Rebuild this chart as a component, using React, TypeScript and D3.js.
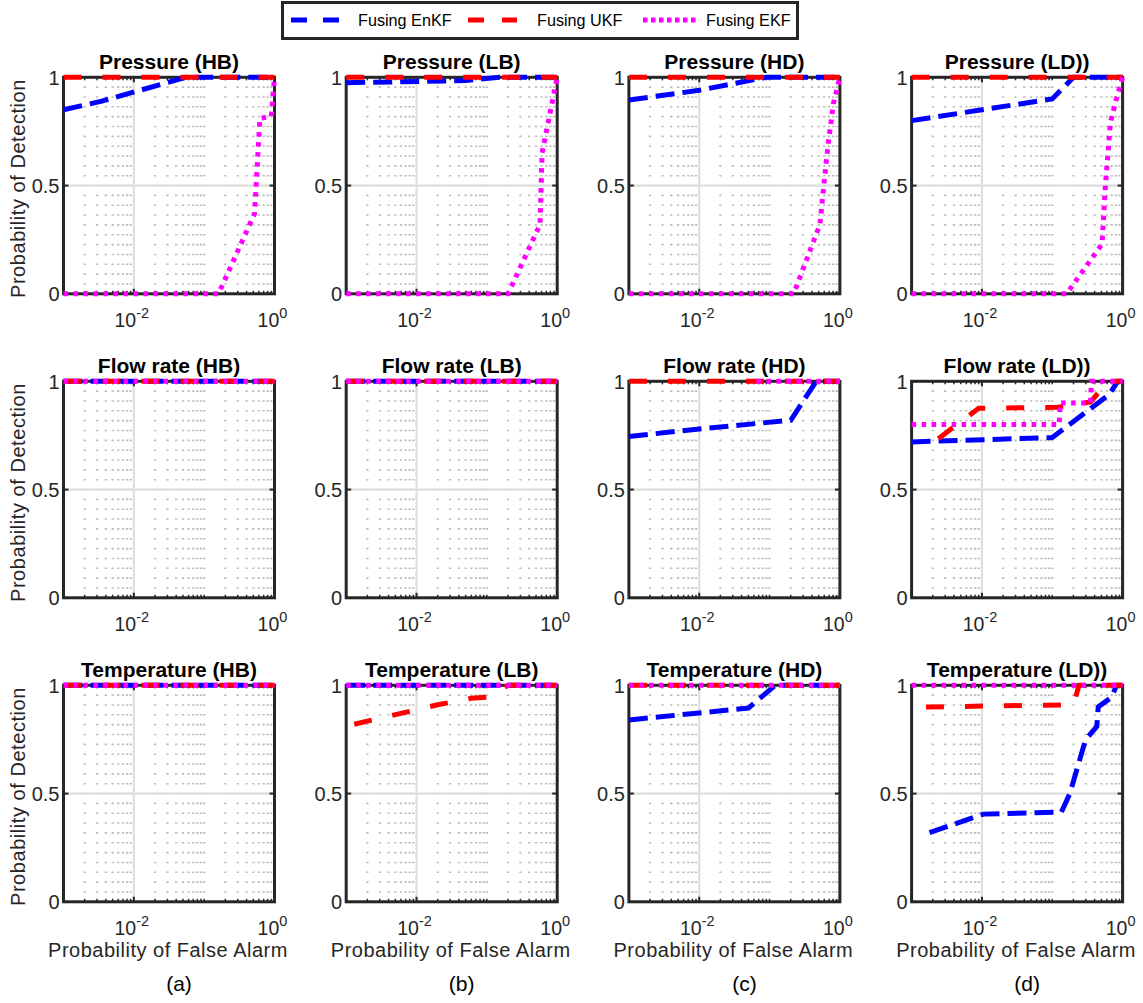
import React from "react";
import * as d3 from "d3";

type Pt = [number, number];

// ---------- data ----------
const ONE: Pt[] = [[1e-3, 1], [1, 1]];

// Pressure
const P_HB_EnKF: Pt[] = [[1e-3, 0.85], [3.5e-3, 0.89], [0.055, 1], [1, 1]];
const P_HB_UKF: Pt[] = ONE;
const P_HB_EKF: Pt[] = [[1e-3, 0], [0.16, 0], [0.52, 0.37], [0.62, 0.81], [0.9, 0.82], [1, 1]];

const P_LB_EnKF: Pt[] = [[1e-3, 0.975], [0.05, 0.985], [0.15, 1], [1, 1]];
const P_LB_UKF: Pt[] = ONE;
const P_LB_EKF: Pt[] = [[1e-3, 0], [0.2, 0], [0.57, 0.32], [0.61, 0.65], [1, 1]];

const P_HD_EnKF: Pt[] = [[1e-3, 0.895], [0.01, 0.94], [0.09, 1], [1, 1]];
const P_HD_UKF: Pt[] = ONE;
const P_HD_EKF: Pt[] = [[1e-3, 0], [0.22, 0], [0.52, 0.32], [0.59, 0.5], [0.68, 0.69], [0.81, 0.88], [1, 1]];

const P_LD_EnKF: Pt[] = [[1e-3, 0.8], [0.1, 0.9], [0.2, 1], [1, 1]];
const P_LD_UKF: Pt[] = ONE;
const P_LD_EKF: Pt[] = [[1e-3, 0], [0.16, 0], [0.51, 0.23], [0.57, 0.5], [0.67, 0.79], [0.83, 0.91], [1, 1]];

// Flow rate
const F_HB_EnKF: Pt[] = ONE;
const F_HB_UKF: Pt[] = ONE;
const F_HB_EKF: Pt[] = ONE;

const F_LB_EnKF: Pt[] = ONE;
const F_LB_UKF: Pt[] = ONE;
const F_LB_EKF: Pt[] = ONE;

const F_HD_EnKF: Pt[] = [[1e-3, 0.745], [0.01, 0.78], [0.2, 0.82], [0.46, 1], [1, 1]];
const F_HD_UKF: Pt[] = ONE;
const F_HD_EKF: Pt[] = [[0.065, 1], [1, 1]];

const F_LD_EnKF: Pt[] = [[1e-3, 0.72], [0.1, 0.74], [0.65, 0.94], [0.85, 1], [1, 1]];
const F_LD_UKF: Pt[] = [[2.4e-3, 0.735], [9e-3, 0.875], [0.12, 0.88], [0.35, 0.905], [0.62, 1], [1, 1]];
const F_LD_EKF: Pt[] = [[1e-3, 0.8], [0.125, 0.8], [0.13, 0.9], [0.35, 0.9], [0.36, 1], [1, 1]];

// Temperature
const T_HB_EnKF: Pt[] = ONE;
const T_HB_UKF: Pt[] = ONE;
const T_HB_EKF: Pt[] = ONE;

const T_LB_EnKF: Pt[] = ONE;
const T_LB_UKF: Pt[] = [[1.3e-3, 0.82], [0.02, 0.91], [0.06, 0.94], [0.1, 0.945], [0.2, 1], [1, 1]];
const T_LB_EKF: Pt[] = ONE;

const T_HD_EnKF: Pt[] = [[1e-3, 0.84], [0.05, 0.895], [0.12, 1], [1, 1]];
const T_HD_UKF: Pt[] = ONE;
const T_HD_EKF: Pt[] = ONE;

const T_LD_EnKF: Pt[] = [[1.8e-3, 0.32], [0.0105, 0.405], [0.135, 0.415], [0.178, 0.5], [0.276, 0.713], [0.3, 0.75], [0.43, 0.81], [0.45, 0.9], [0.7, 0.945], [0.82, 1], [1, 1]];
const T_LD_UKF: Pt[] = [[1.6e-3, 0.9], [0.2, 0.91], [0.24, 1], [1, 1]];
const T_LD_EKF: Pt[] = ONE;

const rowTitles = [
  ["Pressure (HB)", "Pressure (LB)", "Pressure (HD)", "Pressure (LD))"],
  ["Flow rate (HB)", "Flow rate (LB)", "Flow rate (HD)", "Flow rate (LD))"],
  ["Temperature (HB)", "Temperature (LB)", "Temperature (HD)", "Temperature (LD))"],
];
const panelLetters = ["(a)", "(b)", "(c)", "(d)"];
const seriesNames = ["Fusing EnKF", "Fusing UKF", "Fusing EKF"];
const enkfCurves: Pt[][][] = [
  [P_HB_EnKF, P_LB_EnKF, P_HD_EnKF, P_LD_EnKF],
  [F_HB_EnKF, F_LB_EnKF, F_HD_EnKF, F_LD_EnKF],
  [T_HB_EnKF, T_LB_EnKF, T_HD_EnKF, T_LD_EnKF],
];
const ukfCurves: Pt[][][] = [
  [P_HB_UKF, P_LB_UKF, P_HD_UKF, P_LD_UKF],
  [F_HB_UKF, F_LB_UKF, F_HD_UKF, F_LD_UKF],
  [T_HB_UKF, T_LB_UKF, T_HD_UKF, T_LD_UKF],
];
const ekfCurves: Pt[][][] = [
  [P_HB_EKF, P_LB_EKF, P_HD_EKF, P_LD_EKF],
  [F_HB_EKF, F_LB_EKF, F_HD_EKF, F_LD_EKF],
  [T_HB_EKF, T_LB_EKF, T_HD_EKF, T_LD_EKF],
];
const xDomain: [number, number] = [1e-3, 1];
const xTicks = [1e-2, 1];
const xTickExps = ["-2", "0"];
const yTicks = [0, 0.5, 1];
const yTickLabels = ["0", "0.5", "1"];
const xLabel = "Probability of False Alarm";
const yLabel = "Probability of Detection";

// ---------- style ----------
const FONT = "'Liberation Sans', Arial, Helvetica, sans-serif";
const AX = "#262626";
const W = 211;
const H = 216.5;
const X0 = 63.5;
const DX = 282.7;
const Y0 = 77.3;
const DY = 304;
const seriesStyle = [
  { color: "#0000ff", dash: "19 8", legendDash: "16 16" },
  { color: "#ff0000", dash: "18 21", legendDash: "16 18" },
  { color: "#ff00ff", dash: "4.5 5.5", legendDash: "4.5 3.5" },
];

const minorX: number[] = [];
for (const e of [-3, -2, -1]) {
  for (let k = 2; k <= 9; k++) minorX.push(k * Math.pow(10, e));
}
minorX.push(0.1);

function Panel({ r, c }: { r: number; c: number }) {
  const left = X0 + c * DX;
  const top = Y0 + r * DY;
  const x = d3.scaleLog().domain(xDomain).range([left, left + W]);
  const y = d3.scaleLinear().domain([0, 1]).range([top + H, top]);
  const line = d3
    .line<Pt>()
    .x((d) => x(d[0]))
    .y((d) => y(d[1]));
  const period = H / 22;
  const curves = [enkfCurves[r][c], ukfCurves[r][c], ekfCurves[r][c]];
  return (
    <g>
      <rect x={left} y={top} width={W} height={H} fill="#fff" />
      {minorX
        .filter((v) => v !== 1e-2)
        .map((v, i) => (
          <line
            key={"mg" + i}
            x1={x(v)}
            x2={x(v)}
            y1={top}
            y2={top + H}
            stroke="#bcbcbc"
            strokeWidth={2.3}
            strokeDasharray={`1.6 ${period - 1.6}`}
            strokeDashoffset={0.8}
          />
        ))}
      <line x1={x(1e-2)} x2={x(1e-2)} y1={top} y2={top + H} stroke="#dedede" strokeWidth={2.2} />
      <line x1={left} x2={left + W} y1={y(0.5)} y2={y(0.5)} stroke="#dedede" strokeWidth={2.2} />
      {/* ticks */}
      {minorX.map((v, i) => (
        <g key={"mt" + i}>
          <line x1={x(v)} x2={x(v)} y1={top + H} y2={top + H - 3} stroke={AX} strokeWidth={1.5} />
          <line x1={x(v)} x2={x(v)} y1={top} y2={top + 3} stroke={AX} strokeWidth={1.5} />
        </g>
      ))}
      {xTicks.map((v, i) => (
        <g key={"xt" + i}>
          <line x1={x(v)} x2={x(v)} y1={top + H} y2={top + H - 5} stroke={AX} strokeWidth={2} />
          <line x1={x(v)} x2={x(v)} y1={top} y2={top + 5} stroke={AX} strokeWidth={2} />
        </g>
      ))}
      {yTicks.map((v, i) => (
        <g key={"yt" + i}>
          <line x1={left} x2={left + 5} y1={y(v)} y2={y(v)} stroke={AX} strokeWidth={2} />
          <line x1={left + W} x2={left + W - 5} y1={y(v)} y2={y(v)} stroke={AX} strokeWidth={2} />
        </g>
      ))}
      <rect x={left} y={top} width={W} height={H} fill="none" stroke={AX} strokeWidth={3} />
      {/* curves */}
      {curves.map((d, i) => (
        <path
          key={"c" + i}
          d={line(d) || ""}
          fill="none"
          stroke={seriesStyle[i].color}
          strokeWidth={5}
          strokeDasharray={seriesStyle[i].dash}
          strokeLinejoin="miter"
        />
      ))}
      {/* tick labels */}
      {yTicks.map((v, i) => (
        <text
          key={"yl" + i}
          x={left - 4}
          y={y(v)}
          dy="0.36em"
          textAnchor="end"
          fontSize={20}
          fontFamily={FONT}
          fill={AX}
        >
          {yTickLabels[i]}
        </text>
      ))}
      {xTicks.map((v, i) => (
        <text
          key={"xl" + i}
          x={x(v) - 2}
          y={top + H + 33}
          textAnchor="middle"
          fontSize={19.5}
          fontFamily={FONT}
          fill={AX}
        >
          <tspan>10</tspan>
          <tspan dy={-9} fontSize={14.5}>
            {xTickExps[i]}
          </tspan>
        </text>
      ))}
      <text
        x={left + W / 2}
        y={top - 8}
        textAnchor="middle"
        fontSize={21}
        fontWeight="bold"
        fontFamily={FONT}
        fill="#000"
      >
        {rowTitles[r][c]}
      </text>
      {c === 0 && (
        <text
          transform={`translate(25, ${top + H / 2 + 3}) rotate(-90)`}
          textAnchor="middle"
          fontSize={20}
          letterSpacing={0.55}
          fontFamily={FONT}
          fill={AX}
        >
          {yLabel}
        </text>
      )}
      {r === 2 && (
        <>
          <text
            x={left + W / 2 - 1}
            y={957}
            textAnchor="middle"
            fontSize={20}
            letterSpacing={0.5}
            fontFamily={FONT}
            fill={AX}
          >
            {xLabel}
          </text>
          <text x={left + W / 2 + 10} y={991} textAnchor="middle" fontSize={21} fontFamily={FONT} fill="#000">
            {panelLetters[c]}
          </text>
        </>
      )}
    </g>
  );
}

function Legend() {
  const lines = [
    [291, 340],
    [468, 517],
    [643, 698],
  ];
  const textX = [358, 537, 706];
  return (
    <g>
      <rect x={282.5} y={2.5} width={515} height={36} fill="#fff" stroke={AX} strokeWidth={3} />
      {seriesNames.map((n, i) => (
        <g key={n}>
          <line
            x1={lines[i][0]}
            x2={lines[i][1]}
            y1={20}
            y2={20}
            stroke={seriesStyle[i].color}
            strokeWidth={5}
            strokeDasharray={seriesStyle[i].legendDash}
          />
          <text x={textX[i]} y={26} fontSize={16.2} fontFamily={FONT} fill="#000">
            {n}
          </text>
        </g>
      ))}
    </g>
  );
}

export default function App() {
  const cells: { r: number; c: number }[] = [];
  for (let r = 0; r < 3; r++) for (let c = 0; c < 4; c++) cells.push({ r, c });
  return (
    <svg
      width={1143}
      height={1003}
      style={{ position: "absolute", left: 0, top: 0, display: "block", background: "#fff" }}
    >
      <rect width={1143} height={1003} fill="#fff" />
      {cells.map(({ r, c }) => (
        <Panel key={`${r}-${c}`} r={r} c={c} />
      ))}
      <Legend />
    </svg>
  );
}
